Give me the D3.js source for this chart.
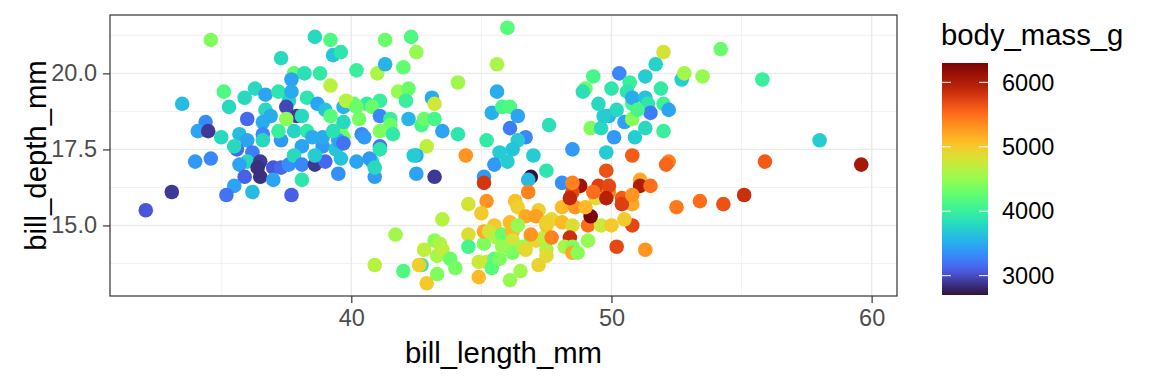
<!DOCTYPE html>
<html lang="en">
<head>
    <meta charset="UTF-8">
    <title>bill_length_mm vs bill_depth_mm</title>
    <script src="https://d3js.org/d3.v7.min.js"></script>
    <style>
        body { margin: 0; background: #fff; }
        text { font-family: "Liberation Sans", Arial, Helvetica, sans-serif; }
    </style>
</head>
<body>
    <svg id="chart" width="1152" height="384"></svg>
    <script>
        // values
        var billLength = [
            34.6, 38.6, 39.2, 39.3, 39.6, 37.3, 40.2, 41.0, 37.8, 38.2, 37.7, 38.8, 39.2, 35.1, 36.3, 35.9, 36.7, 37.2, 37.6, 37.7,
            38.3, 33.5, 35.3, 37.5, 37.9, 37.5, 36.7, 36.9, 36.6, 36.0, 34.4, 34.1, 34.5, 35.0, 35.7, 36.0, 36.6, 37.3, 37.8, 38.3,
            38.7, 39.0, 39.2, 39.7, 39.6, 39.7, 39.7, 40.1, 40.3, 40.6, 40.4, 40.5, 35.6, 35.5, 36.2, 38.1, 38.9, 39.4, 38.5, 38.1,
            36.6, 37.2, 38.9, 39.5, 39.3, 34.0, 34.6, 36.0, 35.7, 36.5, 36.4, 35.9, 36.5, 37.0, 37.3, 37.0, 37.6, 37.8, 38.1, 38.1,
            38.6, 39.0, 38.6, 39.5, 35.5, 35.2, 36.2, 37.7, 33.1, 32.1, 39.6, 40.2, 40.8, 40.9, 41.3, 41.8, 42.2, 42.1, 43.1, 43.2,
            44.1, 39.8, 40.2, 41.1, 40.8, 41.1, 41.5, 41.5, 41.1, 41.6, 42.2, 42.7, 42.8, 43.2, 43.5, 44.1, 42.9, 39.7, 41.1, 41.1,
            40.7, 40.9, 42.5, 42.4, 42.5, 43.2, 41.3, 42.3, 42.5, 42.0,
            46.0, 45.6, 45.6, 45.4, 45.8, 46.1, 46.4, 46.1, 46.7, 46.4, 45.2, 46.2, 45.7, 47.0, 47.6, 48.5, 49.8, 49.2, 49.6, 50.1,
            50.5, 50.8, 49.9, 50.2, 49.7, 49.5, 49.0, 48.9, 49.3, 50.0, 50.3, 50.7, 50.6, 50.8, 51.3, 51.7, 52.0, 51.9, 52.7, 52.8,
            53.5, 50.8, 51.3, 51.4, 52.0, 52.2, 51.5, 51.0, 50.9, 51.3, 52.0, 54.2, 55.8, 58.0, 45.5, 46.0, 45.1, 46.9, 46.8, 47.5,
            48.1,
            45.1, 44.4, 50.8, 52.2, 52.1, 49.8, 51.1, 51.1, 51.5, 48.8, 48.5, 49.5, 49.9, 50.4, 49.4, 52.5, 53.4, 54.3, 55.1, 55.9,
            59.6, 50.8, 50.8, 51.3, 46.8, 45.2, 44.5, 45.0, 46.3, 46.4, 47.2, 46.7, 47.1, 43.5, 41.7, 40.9, 42.0, 42.7, 42.6, 42.9,
            43.3, 42.8, 43.2, 43.4, 43.3, 43.5, 43.8, 44.0, 44.5, 44.5, 45.1, 45.1, 44.9, 45.2, 45.4, 45.5, 45.7, 44.9, 46.1, 46.5,
            45.5, 45.3, 45.6, 45.8, 46.1, 46.2, 46.4, 46.2, 46.2, 46.6, 46.9, 46.7, 47.1, 47.4, 47.5, 47.5, 47.2, 47.5, 47.7, 47.7,
            48.1, 48.5, 48.4, 48.2, 48.5, 48.5, 48.7, 49.1, 49.1, 49.6, 50.0, 50.5, 49.2, 50.2, 48.5, 49.9, 48.1, 48.6, 49.0, 48.4,
            49.3, 49.8, 50.4, 50.8, 45.8, 46.9, 47.5
        ];
        var billDepth = [
            21.1, 21.2, 21.1, 20.6, 20.7, 20.5, 20.1, 20.0, 20.0, 20.0, 19.8, 20.0, 19.6, 19.4, 19.5, 19.2, 19.3, 19.4, 19.1, 19.4,
            19.2, 19.0, 18.9, 18.9, 18.6, 18.5, 18.8, 18.6, 18.4, 18.5, 18.4, 18.1, 18.1, 17.9, 18.0, 17.8, 18.0, 17.8, 18.1, 18.1,
            19.0, 18.8, 18.6, 18.9, 18.2, 17.9, 18.4, 19.0, 18.5, 19.0, 18.0, 17.9, 17.5, 17.6, 17.4, 17.6, 17.6, 17.5, 17.9, 18.6,
            17.8, 18.1, 17.9, 17.8, 18.1, 17.1, 17.2, 17.1, 17.0, 17.1, 16.9, 16.6, 16.6, 16.9, 16.9, 16.5, 17.0, 17.3, 17.0, 16.5,
            17.0, 17.1, 17.3, 16.7, 16.3, 16.0, 16.1, 16.0, 16.1, 15.5, 17.2, 17.1, 17.1, 16.6, 20.3, 19.4, 19.5, 19.1, 19.2, 19.0,
            19.7, 19.1, 18.9, 19.1, 18.9, 18.6, 18.5, 18.3, 18.1, 18.0, 18.5, 18.3, 18.5, 18.5, 18.1, 18.0, 17.6, 17.7, 17.6, 17.5,
            17.2, 16.9, 17.3, 17.3, 16.7, 16.6, 21.1, 21.2, 20.7, 20.2,
            21.5, 20.3, 19.4, 18.7, 18.9, 18.9, 18.6, 18.2, 17.9, 17.8, 17.8, 17.5, 17.4, 17.3, 18.3, 17.5, 17.4, 18.2, 18.2, 17.9,
            18.4, 18.5, 18.6, 18.8, 18.6, 19.0, 19.5, 19.4, 19.9, 19.5, 20.0, 19.7, 19.4, 19.0, 19.9, 20.3, 20.7, 19.5, 19.8, 20.0,
            19.9, 19.2, 19.2, 19.0, 19.0, 18.8, 18.7, 18.8, 17.9, 18.2, 18.1, 20.8, 19.8, 17.8, 17.0, 17.1, 16.6, 16.6, 16.5, 16.8,
            16.4,
            16.4, 17.3, 17.3, 17.1, 17.0, 16.8, 16.5, 16.3, 16.3, 16.3, 16.1, 16.3, 16.1, 15.9, 15.9, 15.6, 15.8, 15.7, 16.0, 17.1,
            17.0, 15.7, 15.0, 14.2, 16.1, 15.8, 15.7, 15.4, 15.8, 15.6, 15.5, 15.3, 15.3, 15.2, 14.7, 13.7, 13.5, 13.7, 13.7, 13.1,
            13.4, 14.2, 14.5, 14.4, 14.0, 14.2, 13.9, 13.6, 14.7, 14.3, 14.4, 14.8, 13.8, 13.8, 13.6, 13.9, 13.9, 13.3, 13.2, 13.5,
            15.0, 14.8, 14.6, 14.7, 15.1, 14.8, 15.0, 14.5, 14.1, 14.3, 14.6, 14.2, 14.5, 14.6, 14.2, 14.0, 13.7, 15.0, 15.2, 14.6,
            15.1, 15.0, 14.6, 14.3, 14.3, 14.1, 14.1, 14.5, 15.0, 15.0, 15.0, 15.2, 15.3, 14.3, 16.4, 16.3, 15.6, 15.6, 15.6, 15.9,
            16.1, 15.9, 15.7, 16.0, 14.3, 14.7, 15.1
        ];
        var bodyMass = [
            4400, 3800, 4150, 3650, 3900, 3800, 4000, 4600, 4250, 3850, 3450, 3950, 4675, 4150, 3800, 3800, 3450, 3900, 3750, 3500,
            3900, 3600, 3800, 2975, 2900, 4475, 3800, 3500, 3500, 3150, 3325, 3450, 2900, 3800, 3600, 3450, 3300, 3400, 3750, 3950,
            3450, 3650, 4200, 3550, 4450, 4300, 3800, 4300, 4350, 3950, 3300, 3400, 3150, 3800, 3250, 3450, 3400, 3650, 3500, 3800,
            3800, 4000, 3500, 3450, 3850, 3400, 3300, 3800, 3450, 2900, 2850, 3100, 2850, 3050, 3150, 3450, 3350, 3800, 3300, 3900,
            2900, 3150, 3700, 3350, 3450, 3200, 3600, 3100, 2900, 3050, 3650, 3450, 3800, 3400, 3550, 4500, 4300, 4000, 3500, 4775,
            4550, 4650, 4300, 4000, 4300, 3300, 4000, 4300, 4400, 3950, 3550, 4100, 4300, 4100, 3450, 3900, 4700, 3200, 3200, 3900,
            3400, 3800, 3500, 3700, 3450, 2900, 4300, 4150, 4500, 4250,
            4200, 4600, 3500, 3525, 4100, 4150, 3450, 3250, 3300, 3700, 3950, 3650, 3700, 3700, 3850, 3400, 3700, 4400, 3800, 3400,
            3450, 4450, 3600, 3800, 3700, 3800, 4300, 3850, 4100, 3900, 3300, 4000, 3900, 4100, 3700, 3750, 4800, 3950, 3700, 4550,
            4500, 3500, 3650, 3900, 4050, 3450, 3250, 4100, 3700, 3800, 4000, 4300, 4000, 3700, 3400, 3700, 3400, 2700, 3600, 3900,
            3350,
            5800, 5300, 5600, 5400, 5550, 5650, 5200, 6000, 5500, 6100, 5700, 5750, 5400, 5600, 4900, 5450, 5500, 5650, 5850, 5600,
            6050, 5200, 5700, 5300, 5400, 5300, 4800, 5000, 5050, 4950, 4950, 5200, 5250, 4650, 4550, 4650, 4150, 3950, 4950, 5000,
            4400, 4700, 4450, 4600, 4575, 4700, 4300, 4350, 4850, 4100, 4400, 5200, 4750, 4750, 4200, 4200, 4400, 5100, 4500, 4550,
            5000, 4800, 4600, 4300, 5100, 5100, 4500, 4800, 4375, 4550, 4500, 4900, 4900, 4725, 4600, 4875, 4925, 5000, 4900, 5400,
            5100, 4850, 5850, 4600, 4400, 5200, 4450, 4500, 5500, 4750, 5000, 5000, 6300, 5700, 5400, 5700, 5100, 5300, 5100, 5900,
            5500, 5950, 5750, 5300, 4500, 5300, 4950
        ];

        var xMajor = [40, 50, 60], xMinor = [35, 45, 55];
        var yMajor = [15, 17.5, 20], yMinor = [13.75, 16.25, 18.75, 21.25];
        var massTicks = [3000, 4000, 5000, 6000];

        var points = billLength.map(function(d, i) {
            return { x: d, y: billDepth[i], m: bodyMass[i] };
        });

        var svg = d3.select("#chart");
        var panel = { left: 110, right: 897, top: 15, bottom: 296 };

        // ggplot style 5% expansion of the data range
        function expand(ext) {
            var pad = (ext[1] - ext[0]) * 0.05;
            return [ext[0] - pad, ext[1] + pad];
        }

        var x = d3.scaleLinear().domain(expand(d3.extent(billLength))).range([panel.left, panel.right]);
        var y = d3.scaleLinear().domain(expand(d3.extent(billDepth))).range([panel.bottom, panel.top]);

        // turbo, with the ends pulled toward the R palette ends
        function turbo(t) {
            if (t < 0.1) return d3.interpolateRgb("#30123b", d3.interpolateTurbo(0.1))(t / 0.1);
            if (t > 0.9) return d3.interpolateRgb(d3.interpolateTurbo(0.9), "#7a0403")((t - 0.9) / 0.1);
            return d3.interpolateTurbo(t);
        }
        var massExt = d3.extent(bodyMass);
        var color = d3.scaleSequential(turbo).domain(massExt);

        // panel background + grid
        svg.append("rect")
            .attr("x", panel.left).attr("y", panel.top)
            .attr("width", panel.right - panel.left).attr("height", panel.bottom - panel.top)
            .attr("fill", "#fff");

        var grid = svg.append("g");
        grid.selectAll(".xminor").data(xMinor).enter().append("line")
            .attr("x1", x).attr("x2", x).attr("y1", panel.top).attr("y2", panel.bottom)
            .attr("stroke", "#ebebeb").attr("stroke-width", 0.7);
        grid.selectAll(".yminor").data(yMinor).enter().append("line")
            .attr("y1", y).attr("y2", y).attr("x1", panel.left).attr("x2", panel.right)
            .attr("stroke", "#ebebeb").attr("stroke-width", 0.7);
        grid.selectAll(".xmajor").data(xMajor).enter().append("line")
            .attr("x1", x).attr("x2", x).attr("y1", panel.top).attr("y2", panel.bottom)
            .attr("stroke", "#ebebeb").attr("stroke-width", 1.4);
        grid.selectAll(".ymajor").data(yMajor).enter().append("line")
            .attr("y1", y).attr("y2", y).attr("x1", panel.left).attr("x2", panel.right)
            .attr("stroke", "#ebebeb").attr("stroke-width", 1.4);

        // points
        svg.append("g").selectAll("circle")
            .data(points)
            .enter().append("circle")
            .attr("cx", function(d) { return x(d.x); })
            .attr("cy", function(d) { return y(d.y); })
            .attr("r", 7.3)
            .attr("fill", function(d) { return color(d.m); });

        // border
        svg.append("rect")
            .attr("x", panel.left).attr("y", panel.top)
            .attr("width", panel.right - panel.left).attr("height", panel.bottom - panel.top)
            .attr("fill", "none").attr("stroke", "#333").attr("stroke-width", 1.2);

        // axes
        var xAxis = svg.append("g")
            .attr("transform", "translate(0," + panel.bottom + ")")
            .call(d3.axisBottom(x).tickValues(xMajor).tickSize(7).tickPadding(6).tickFormat(d3.format("d")));
        var yAxis = svg.append("g")
            .attr("transform", "translate(" + panel.left + ",0)")
            .call(d3.axisLeft(y).tickValues(yMajor).tickSize(7).tickPadding(6).tickFormat(d3.format(".1f")));

        [xAxis, yAxis].forEach(function(ax) {
            ax.select(".domain").remove();
            ax.selectAll(".tick line").attr("stroke", "#333").attr("stroke-width", 1.2);
            ax.selectAll(".tick text")
                .attr("fill", "#4d4d4d")
                .style("font-size", "23.5px");
        });

        svg.append("text")
            .attr("x", (panel.left + panel.right) / 2).attr("y", 363)
            .attr("text-anchor", "middle")
            .style("font-size", "29.3px")
            .text("bill_length_mm");

        svg.append("text")
            .attr("transform", "translate(46," + ((panel.top + panel.bottom) / 2) + ") rotate(-90)")
            .attr("text-anchor", "middle")
            .style("font-size", "29.3px")
            .text("bill_depth_mm");

        // colour bar legend
        var bar = { x: 942, w: 46, top: 63, bottom: 295 };
        var legY = d3.scaleLinear().domain(massExt).range([bar.bottom, bar.top]);

        var grad = svg.append("defs").append("linearGradient")
            .attr("id", "massgrad")
            .attr("x1", 0).attr("y1", 1).attr("x2", 0).attr("y2", 0);
        grad.selectAll("stop")
            .data(d3.range(0, 1.0001, 0.02))
            .enter().append("stop")
            .attr("offset", function(t) { return t; })
            .attr("stop-color", function(t) { return turbo(t); });

        svg.append("rect")
            .attr("x", bar.x).attr("y", bar.top)
            .attr("width", bar.w).attr("height", bar.bottom - bar.top)
            .attr("fill", "url(#massgrad)");

        var legTicks = svg.append("g").selectAll("g").data(massTicks).enter().append("g");
        legTicks.append("line")
            .attr("x1", bar.x).attr("x2", bar.x + 9)
            .attr("y1", legY).attr("y2", legY)
            .attr("stroke", "#fff").attr("stroke-width", 1);
        legTicks.append("line")
            .attr("x1", bar.x + bar.w - 9).attr("x2", bar.x + bar.w)
            .attr("y1", legY).attr("y2", legY)
            .attr("stroke", "#fff").attr("stroke-width", 1);
        legTicks.append("text")
            .attr("x", 1002).attr("y", legY)
            .attr("dy", "0.35em")
            .style("font-size", "23.5px")
            .text(function(d) { return d; });

        svg.append("text")
            .attr("x", 941).attr("y", 45)
            .style("font-size", "29.3px")
            .text("body_mass_g");
    </script>
</body>
</html>
